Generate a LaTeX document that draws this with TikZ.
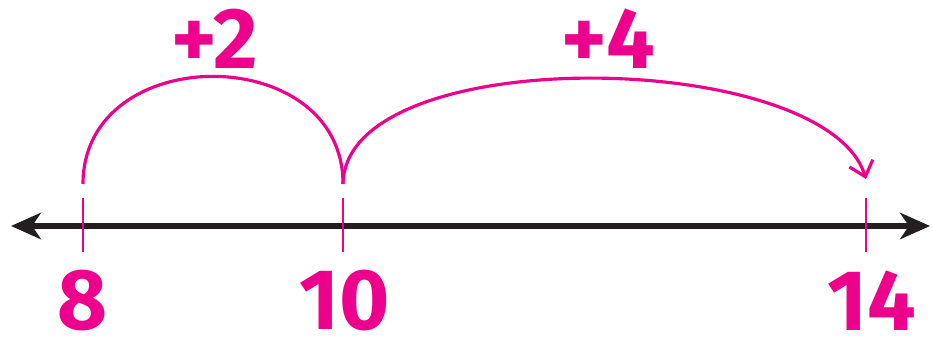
\documentclass[tikz,border=0pt]{standalone}
\usepackage{fontspec}
\setmainfont{Fira Sans}
\usetikzlibrary{arrows.meta, positioning, calc}
\definecolor{jumppink}{HTML}{EC008C}
\definecolor{axisgray}{HTML}{231F20}

\tikzset{
  numlabel/.style={text=jumppink, font=\fontsize{49}{49}\selectfont\bfseries, inner sep=0pt},
  ticktip/.style={draw=jumppink, line width=1.1pt},
  hop/.style={draw=jumppink, line width=1.8pt},
  axisline/.style={draw=axisgray, line width=3.4pt, {Stealth[length=17pt,width=15pt,inset=5pt]}-{Stealth[length=17pt,width=15pt,inset=5pt]}}
}

\begin{document}
\begin{tikzpicture}
  \useasboundingbox (0,0) rectangle (18.66,6.76);

  % number line
  \coordinate (left) at (0.22,2.24);
  \coordinate (right) at (18.6,2.24);
  \draw[axisline] (left) -- (right);

  % ticks and their tops
  \foreach \name/\x in {8/1.66, 10/6.86, 14/17.32} {
    \draw[ticktip] (\x,1.72) -- (\x,2.8);
    \coordinate (top\name) at (\x,3.08);
  }
  \coordinate (top14) at (17.32,3.18);

  % labels
  \node[numlabel] (eight) at (1.66,0.74) {8};
  \node[numlabel] (ten) at (6.9,0.74) {10};
  \node[numlabel] (fourteen) at (17.44,0.74) {14};
  \node[numlabel] (plustwo) at (4.3,5.98) {+2};
  \node[numlabel] (plusfour) at (12.16,5.98) {+4};

  % jumps
  \draw[hop] (top8) .. controls (1.66,5.95) and (6.86,5.95) .. (top10);
  \draw[hop, -{Straight Barb[length=8pt,width=14pt]}] (top10) .. controls (6.9,5.95) and (16.5,5.8) .. (top14);
\end{tikzpicture}
\end{document}
